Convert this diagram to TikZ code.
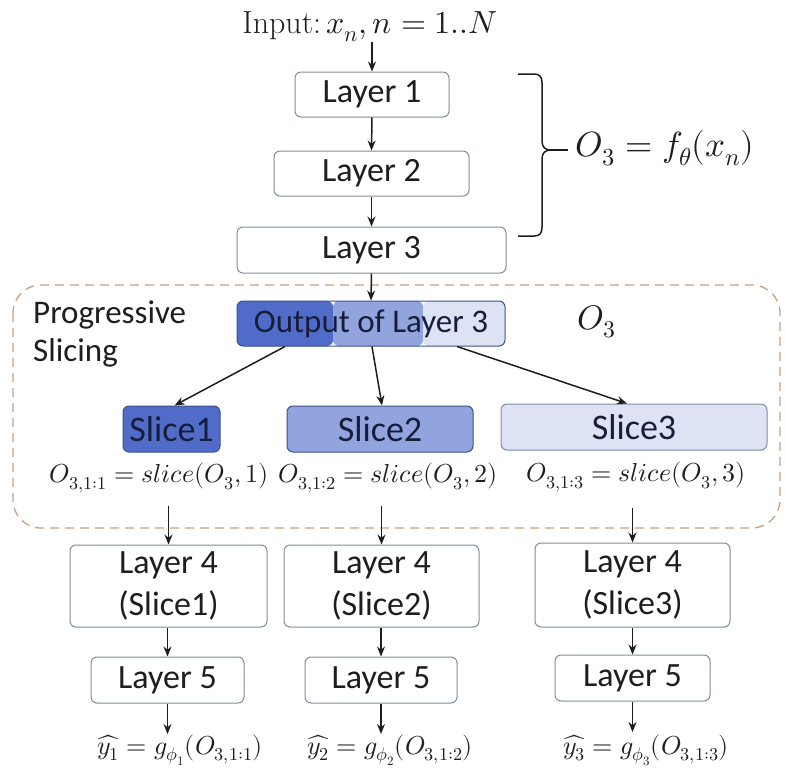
\documentclass[tikz,border=0pt]{standalone}
\usepackage{fontspec}
\usepackage{unicode-math}
\setmathfont{Latin Modern Math}
\setsansfont{Carlito}
\usetikzlibrary{arrows.meta,calc}
\definecolor{bordc}{RGB}{128,140,160}
\definecolor{txt}{RGB}{30,30,30}
\definecolor{navy}{RGB}{22,30,60}
\definecolor{cdark}{RGB}{80,108,200}
\definecolor{cmid}{RGB}{145,164,222}
\definecolor{clight}{RGB}{221,227,244}
\definecolor{cdarkb}{RGB}{60,80,140}
\definecolor{dashc}{RGB}{200,160,125}
\tikzset{
  layerbox/.style={draw=bordc, line width=1pt, rounded corners=6pt, fill=white,
    font=\sffamily\fontsize{34}{42}\selectfont, text=txt, inner sep=0pt, align=center},
  slicebox/.style={draw=cdarkb, line width=1pt, rounded corners=6pt,
    font=\sffamily\fontsize{36}{42}\selectfont, text=navy, inner sep=0pt, minimum height=46pt},
  mathlbl/.style={font=\fontsize{26}{32}\selectfont, text=txt, inner sep=0pt},
  arr/.style={-{Stealth[length=10pt,width=8pt]}, line width=1.5pt, draw=txt},
}
\begin{document}
\begin{tikzpicture}[x=1pt,y=-1pt]
\useasboundingbox (0,0) rectangle (785,771);

% top input
\node[mathlbl, font=\fontsize{32}{36}\selectfont] (in) at (370,27) {Input:\,$x_n, n = 1..N$};

% layers 1-3
\node[layerbox, minimum width=154pt, minimum height=45pt] (L1) at (372,94.5) {Layer 1};
\node[layerbox, minimum width=195pt, minimum height=45pt] (L2) at (371.5,173.5) {Layer 2};
\node[layerbox, minimum width=269pt, minimum height=46pt] (L3) at (371.5,250) {Layer 3};

\coordinate (inA) at (372,42);
\draw[arr] (inA) -- (L1.north);
\draw[arr] (L1.south) -- (L2.north);
\draw[arr] (L2.south) -- (L3.north);

% brace
\draw[line width=1.5pt, draw=txt, line join=round]
  (518,74) -- (534,74) .. controls (540,74) and (542,77) .. (542,83) -- (542,141)
  .. controls (542,147) and (545,150) .. (551,150)
  .. controls (545,150) and (542,153) .. (542,159) -- (542,227)
  .. controls (542,233) and (540,236) .. (534,236) -- (518,236);
\draw[line width=1.5pt, draw=txt] (551,150) -- (568,150);
\node[mathlbl, font=\fontsize{35}{38}\selectfont] (f0) at (665,148) {$O_3 = f_\theta(x_n)$};

% dashed region
\draw[draw=dashc, line width=1.3pt, dash pattern=on 9pt off 6pt, rounded corners=28pt]
  (13,285) rectangle (780,528);
\node[font=\sffamily\fontsize{33}{38}\selectfont, text=txt, align=left, anchor=west, inner sep=0pt]
  (prog) at (33,333.5) {Progressive\\Slicing};

% output of layer 3
\node[draw=cdarkb, line width=1pt, rounded corners=6pt, minimum width=268pt, minimum height=45pt,
  inner sep=0pt, font=\sffamily\fontsize{33}{40}\selectfont, text=navy,
  path picture={
    \fill[cdark] (path picture bounding box.south west) rectangle ([xshift=96pt]path picture bounding box.north west);
    \fill[cmid] ([xshift=96pt]path picture bounding box.south west) rectangle ([xshift=186pt]path picture bounding box.north west);
    \fill[clight] ([xshift=186pt]path picture bounding box.south west) rectangle (path picture bounding box.north east);
  }] (out) at (371,323.5) {Output of Layer 3};
\draw[arr] (L3.south) -- (out.north);
\node[mathlbl, font=\fontsize{34}{36}\selectfont] (o3) at (597,322) {$O_3$};

% slices
\node[slicebox, fill=cdark, minimum width=97pt] (s1) at (171.5,429) {Slice1};
\node[slicebox, fill=cmid, minimum width=186pt] (s2) at (380,429) {Slice2};
\node[slicebox, fill=clight, draw=bordc, minimum width=266pt] (s3) at (634,427) {Slice3};

\draw[arr] ([xshift=-86pt]out.south) -- ([xshift=3pt]s1.north);
\draw[arr] ([xshift=1pt]out.south) -- ([xshift=2pt]s2.north);
\draw[arr] ([xshift=86pt]out.south) -- ([xshift=-7pt]s3.north);

\node[mathlbl] (e1) at (159,478) {$O_{3,1:1} = slice(O_3,1)$};
\node[mathlbl] (e2) at (388,478) {$O_{3,1:2} = slice(O_3,2)$};
\node[mathlbl] (e3) at (636,477) {$O_{3,1:3} = slice(O_3,3)$};

% layer 4
\node[layerbox, minimum width=197pt, minimum height=82pt] (L4a) at (168.5,586) {Layer 4\\(Slice1)};
\node[layerbox, minimum width=195pt, minimum height=82pt] (L4b) at (381.5,586) {Layer 4\\(Slice2)};
\node[layerbox, minimum width=195pt, minimum height=84pt] (L4c) at (632.5,585) {Layer 4\\(Slice3)};

\coordinate (a1) at (168.5,506);
\coordinate (a2) at (381.5,506);
\coordinate (a3) at (632.5,508);
\draw[arr] (a1) -- (L4a.north);
\draw[arr] (a2) -- (L4b.north);
\draw[arr] (a3) -- (L4c.north);

% layer 5
\node[layerbox, minimum width=153pt, minimum height=46pt] (L5a) at (167.5,680) {Layer 5};
\node[layerbox, minimum width=152pt, minimum height=46pt] (L5b) at (381,680) {Layer 5};
\node[layerbox, minimum width=155pt, minimum height=46pt] (L5c) at (632.5,678) {Layer 5};

\draw[arr] (L4a.south -| L5a.north) -- (L5a.north);
\draw[arr] (L4b.south -| L5b.north) -- (L5b.north);
\draw[arr] (L4c.south -| L5c.north) -- (L5c.north);

% outputs
\node[mathlbl] (y1) at (180,750) {$\widehat{y_1} = g_{\phi_1}(O_{3,1:1})$};
\node[mathlbl] (y2) at (390,750) {$\widehat{y_2} = g_{\phi_2}(O_{3,1:2})$};
\node[mathlbl] (y3) at (646,750) {$\widehat{y_3} = g_{\phi_3}(O_{3,1:3})$};

\coordinate (b1) at (167.5,734);
\coordinate (b2) at (381,734);
\coordinate (b3) at (632.5,732);
\draw[arr] (L5a.south) -- (b1);
\draw[arr] (L5b.south) -- (b2);
\draw[arr] (L5c.south) -- (b3);
\end{tikzpicture}
\end{document}
